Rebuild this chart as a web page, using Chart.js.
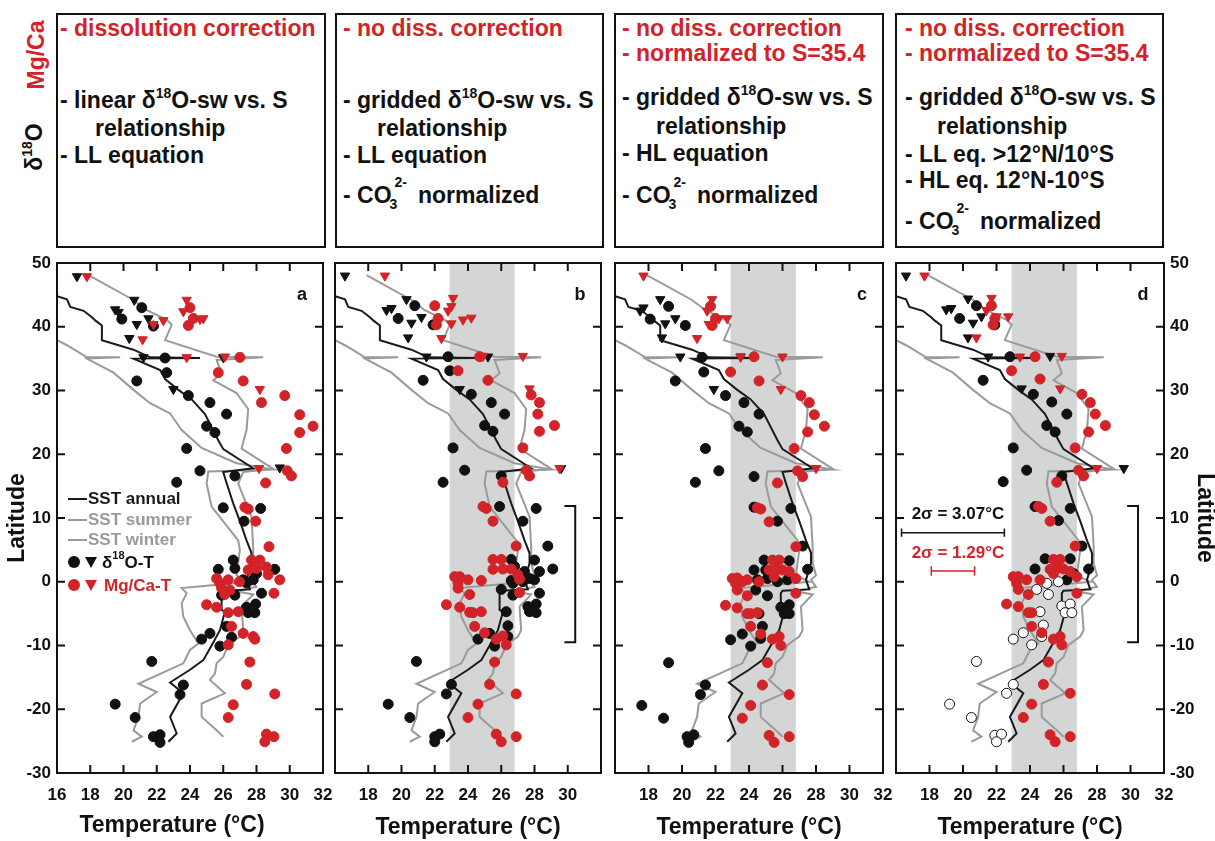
<!DOCTYPE html>
<html>
<head>
<meta charset="utf-8">
<script src="https://cdn.jsdelivr.net/npm/chart.js@4.4.1/dist/chart.umd.min.js"></script>
<style>
  body { margin: 0; background: #fff; }
  #page { position: relative; width: 1215px; height: 841px; overflow: hidden; background: #fff;
          font-family: "Liberation Sans", Arial, sans-serif; }
  canvas { position: absolute; left: 0; top: 0; }
  .box { position: absolute; top: 13px; height: 235px; border: 2px solid #111; box-sizing: border-box;
         font-weight: bold; font-size: 23px; color: #111; }
  .ln { position: absolute; white-space: nowrap; line-height: 26px; }
  .red { color: #d22328; }
  .sup { font-size: 14px; position: relative; top: -10px; }
  .co { display: inline-block; position: relative; width: 20px; height: 20px; }
  .co .s3 { position: absolute; left: -2px; top: 8px; font-size: 14px; }
  .co .s2 { position: absolute; left: 3px; top: -14px; font-size: 14px; }
  .side { position: absolute; font-weight: bold; font-size: 23px; white-space: nowrap;
          transform: translate(-50%, -50%) rotate(-90deg); }
</style>
</head>
<body>
<div id="page">
  <div class="side red" style="left:36px; top:55px;">Mg/Ca</div>
  <div class="side" style="left:34px; top:147px; color:#111;">δ<span class="sup">18</span>O</div>

  <div class="box" style="left:56px; width:270px;">
    <div class="ln red" style="left:2px; top:0px;">- dissolution correction</div>
    <div class="ln" style="left:2px; top:72px;">- linear δ<span class="sup">18</span>O-sw vs. S</div>
    <div class="ln" style="left:37px; top:100px;">relationship</div>
    <div class="ln" style="left:2px; top:127px;">- LL equation</div>
  </div>
  <div class="box" style="left:335px; width:269px;">
    <div class="ln red" style="left:6px; top:0px;">- no diss. correction</div>
    <div class="ln" style="left:6px; top:72px;">- gridded δ<span class="sup">18</span>O-sw vs. S</div>
    <div class="ln" style="left:40px; top:100px;">relationship</div>
    <div class="ln" style="left:6px; top:127px;">- LL equation</div>
    <div class="ln" style="left:6px; top:167px;">- CO<span class="co"><span class="s3">3</span><span class="s2">2-</span></span> normalized</div>
  </div>
  <div class="box" style="left:614px; width:270px;">
    <div class="ln red" style="left:6px; top:0px;">- no diss. correction</div>
    <div class="ln red" style="left:6px; top:25px;">- normalized to S=35.4</div>
    <div class="ln" style="left:6px; top:69px;">- gridded δ<span class="sup">18</span>O-sw vs. S</div>
    <div class="ln" style="left:40px; top:98px;">relationship</div>
    <div class="ln" style="left:6px; top:125px;">- HL equation</div>
    <div class="ln" style="left:6px; top:167px;">- CO<span class="co"><span class="s3">3</span><span class="s2">2-</span></span> normalized</div>
  </div>
  <div class="box" style="left:895px; width:269px;">
    <div class="ln red" style="left:8px; top:0px;">- no diss. correction</div>
    <div class="ln red" style="left:8px; top:25px;">- normalized to S=35.4</div>
    <div class="ln" style="left:8px; top:69px;">- gridded δ<span class="sup">18</span>O-sw vs. S</div>
    <div class="ln" style="left:40px; top:98px;">relationship</div>
    <div class="ln" style="left:8px; top:126px;">- LL eq. &gt;12°N/10°S</div>
    <div class="ln" style="left:8px; top:152px;">- HL eq. 12°N-10°S</div>
    <div class="ln" style="left:8px; top:193px;">- CO<span class="co"><span class="s3">3</span><span class="s2">2-</span></span> normalized</div>
  </div>

  <canvas id="pa" width="1215" height="841"></canvas>
  <canvas id="pb" width="1215" height="841"></canvas>
  <canvas id="pc" width="1215" height="841"></canvas>
  <canvas id="pd" width="1215" height="841"></canvas>
</div>

<script>
// axes
const xMin = 16, xMax = 32;
const yMin = -30, yMax = 50;
const xTicks = [16, 18, 20, 22, 24, 26, 28, 30, 32];
const yTicks = [-30, -20, -10, 0, 10, 20, 30, 40, 50];
const xLabelsA = [16, 18, 20, 22, 24, 26, 28, 30, 32];
const xLabelsB = [18, 20, 22, 24, 26, 28, 30];
const xLabelsCD = [18, 20, 22, 24, 26, 28, 30, 32];
const legendLabels = ['SST annual', 'SST summer', 'SST winter', 'O-T', 'Mg/Ca-T'];

// modern SST profiles [temperature, latitude]
const sstAnnual = [[16.0,44.8],[16.6,44.3],[16.8,43.1],[17.6,42.5],[18.1,41.5],[18.3,41.0],[18.7,40.2],[18.7,37.9],[20.6,36.4],[21.6,35.2],[24.6,35.1],[20.6,35.0],[22.2,33.2],[22.5,31.8],[23.3,30.1],[24.1,28.6],[24.9,26.3],[25.7,22.2],[26.0,20.8],[27.8,17.8],[26.0,17.2],[26.2,15.5],[26.6,12.3],[27.0,9.5],[27.4,6.5],[27.7,4.5],[27.7,2.9],[27.4,0.3],[27.6,-1.2],[26.0,-1.4],[25.9,-1.8],[25.9,-4.4],[26.1,-4.7],[25.8,-7.6],[25.3,-10.0],[24.8,-12.3],[24.0,-13.8],[22.8,-15.8],[23.6,-17.5],[22.8,-21.2],[23.2,-23.8],[22.7,-25.1]];
const sstSummer = [[17.9,48.1],[20.6,44.2],[21.4,42.6],[22.6,41.1],[22.9,40.3],[22.5,37.9],[25.6,35.3],[28.4,35.2],[25.6,34.8],[25.9,32.7],[25.4,31.6],[26.8,29.6],[27.5,27.1],[27.4,23.8],[27.1,20.9],[29.0,17.7],[27.2,17.2],[26.9,15.4],[27.7,10.2],[27.8,5.5],[27.8,2.9],[28.0,1.0],[27.7,0.3],[28.0,-0.8],[26.8,-1.5],[27.8,-2.0],[27.1,-3.9],[27.2,-7.6],[27.0,-8.6],[26.3,-9.9],[26.0,-11.8],[25.6,-12.8],[25.5,-14.4],[25.2,-15.4],[26.1,-17.5],[24.7,-19.1],[24.7,-21.2],[25.6,-23.3],[26.0,-24.3]];
const sstWinter = [[16.0,37.9],[16.6,37.1],[17.8,35.2],[19.8,35.2],[17.8,35.0],[19.4,32.8],[20.6,30.1],[21.6,28.0],[22.8,26.4],[23.5,23.8],[24.7,21.0],[26.8,18.6],[29.0,17.6],[25.1,17.3],[25.0,15.4],[25.3,11.8],[26.9,6.5],[27.0,5.0],[26.8,1.0],[27.6,0.0],[23.5,-1.0],[23.8,-1.8],[23.5,-3.4],[23.6,-5.5],[24.0,-7.6],[24.5,-9.7],[24.0,-10.7],[23.6,-12.8],[20.9,-16.0],[22.0,-17.3],[21.0,-19.1],[20.9,-21.2],[20.6,-23.3],[21.1,-24.3],[20.5,-25.1]];

// panel a
const aO18Tri = [[17.2,47.9],[20.65,44.2],[19.5,42.7],[19.7,42.3],[21.5,41.3],[20.8,40.4],[20.35,38.2],[21.2,35.2],[26.0,35.2],[23.0,30.2],[29.4,17.9]];
const aO18Circ = [[21.1,43.0],[19.9,41.2],[21.8,40.1],[22.5,35.1],[22.6,32.8],[20.8,31.5],[23.9,29.2],[25.2,28.1],[26.2,26.3],[25.0,24.4],[25.5,23.4],[23.8,20.9],[24.6,17.4],[23.2,15.6],[26.7,16.6],[26.0,11.6],[28.25,11.5],[27.25,9.5],[26.6,3.4],[26.7,2.1],[25.7,1.95],[27.6,1.85],[29.1,1.95],[28.0,1.3],[27.2,0.3],[27.8,0.3],[27.4,-0.2],[28.3,-1.8],[26.7,-2.1],[25.9,-2.1],[27.95,-3.5],[27.4,-4.0],[27.5,-4.85],[27.9,-4.85],[26.2,-7.0],[26.5,-8.7],[25.2,-8.1],[24.7,-9.0],[25.8,-10.1],[21.7,-12.5],[23.6,-16.2],[23.4,-17.7],[19.5,-19.2],[20.7,-21.3],[21.8,-24.3],[22.2,-24.0],[22.2,-25.2]];
const aMgTri = [[17.8,47.9],[23.8,44.2],[23.6,42.4],[24.6,41.2],[24.8,41.3],[21.8,40.4],[22.4,41.0],[21.15,38.0],[23.8,35.2],[26.1,35.3],[28.2,30.2],[28.15,17.8]];
const aMgCirc = [[24.0,43.0],[24.2,41.3],[23.9,40.2],[27.0,35.2],[25.7,32.8],[27.2,31.5],[28.3,28.1],[29.7,29.2],[30.6,26.2],[31.4,24.4],[30.6,23.4],[29.8,20.9],[29.85,17.4],[30.1,16.6],[28.55,15.5],[27.3,11.7],[27.5,11.4],[27.95,9.5],[28.75,5.5],[27.7,3.4],[28.2,3.4],[28.6,2.3],[28.7,1.1],[27.5,1.85],[28.0,2.1],[29.4,0.3],[29.05,-1.8],[26.97,0.0],[26.3,0.3],[25.6,0.5],[25.8,-0.25],[25.9,-1.0],[26.4,-1.3],[26.1,-2.0],[25.0,-3.6],[25.6,-4.0],[26.3,-4.85],[26.9,-4.7],[26.5,-7.0],[27.2,-8.1],[27.8,-8.6],[27.9,-9.0],[26.3,-9.9],[27.6,-12.6],[27.4,-16.1],[29.1,-17.6],[26.6,-19.3],[26.3,-21.3],[28.6,-23.9],[29.05,-24.3],[28.5,-25.1]];

// panel b
const bO18Tri = [[16.6,48.0],[20.3,44.3],[19.1,42.6],[19.4,42.9],[21.2,41.5],[20.6,40.6],[20.4,38.3],[21.5,35.3],[25.2,35.3],[23.5,30.2],[29.6,17.8]];
const bO18Circ = [[20.8,43.3],[19.8,41.3],[21.9,40.3],[22.8,35.3],[22.9,33.1],[21.3,31.6],[24.2,29.4],[25.4,28.1],[26.2,26.3],[25.0,24.5],[25.5,23.6],[23.1,21.0],[23.8,17.5],[22.5,15.6],[26.0,16.6],[25.9,11.8],[28.1,11.5],[27.3,9.5],[28.8,5.6],[26.6,3.5],[28.0,3.4],[26.8,2.4],[27.4,1.6],[28.3,1.6],[29.1,2.0],[27.7,0.5],[28.0,0.3],[26.6,0.2],[27.1,0.8],[26.7,-0.25],[27.3,0.0],[26.0,-1.2],[28.3,-1.8],[26.7,-2.1],[27.6,-3.9],[28.1,-3.5],[27.7,-4.7],[28.1,-4.85],[26.3,-4.7],[26.4,-6.9],[26.4,-8.6],[25.3,-8.1],[24.6,-9.0],[25.6,-10.1],[20.9,-12.5],[23.0,-16.1],[22.7,-17.6],[19.2,-19.2],[20.5,-21.3],[22.0,-24.3],[22.3,-23.9],[22.0,-25.1]];
const bMgTri = [[19.0,48.0],[23.1,44.5],[23.0,43.2],[22.8,42.5],[23.0,40.5],[23.7,41.1],[24.2,41.4],[22.4,38.2],[24.9,35.4],[27.3,35.4],[27.7,30.3],[29.5,17.8]];
const bMgCirc = [[22.0,43.3],[22.2,41.3],[22.1,40.3],[24.7,35.3],[23.4,33.1],[25.2,31.6],[27.8,29.3],[28.3,28.1],[28.2,26.3],[29.2,24.5],[28.3,23.6],[27.3,21.0],[27.5,17.5],[27.7,16.6],[26.1,15.6],[24.9,11.8],[25.1,11.5],[25.5,9.5],[26.9,5.6],[25.5,3.5],[26.0,3.5],[25.5,1.95],[26.1,2.0],[26.6,2.0],[27.0,1.1],[27.1,0.4],[23.2,0.8],[23.5,0.8],[23.4,-0.15],[24.0,0.3],[24.8,0.2],[23.4,-1.0],[24.1,-2.0],[27.1,-1.7],[22.7,-3.6],[23.5,-4.0],[24.1,-4.8],[24.3,-4.85],[24.8,-4.7],[24.4,-7.0],[25.0,-8.0],[25.7,-9.0],[26.1,-8.5],[26.3,-9.9],[25.6,-12.6],[25.3,-16.1],[26.9,-17.6],[24.6,-19.2],[24.0,-21.3],[25.7,-23.9],[26.0,-25.1],[26.9,-24.3]];

// panel c
const cO18Tri = [[18.7,44.3],[17.7,43.0],[17.5,42.5],[19.6,41.3],[19.0,40.5],[18.8,38.3],[19.9,35.3],[23.5,35.3],[21.9,30.2]];
const cO18Circ = [[19.2,43.2],[18.1,41.2],[20.2,40.2],[21.2,35.2],[21.3,32.9],[19.6,31.5],[22.6,29.2],[23.7,28.1],[24.6,26.3],[23.4,24.4],[23.9,23.5],[21.4,20.9],[22.2,17.4],[20.8,15.6],[24.3,16.5],[24.3,11.7],[26.5,11.5],[25.7,9.5],[27.2,5.6],[24.9,3.4],[26.4,3.3],[24.3,1.85],[27.5,1.95],[25.0,1.85],[25.1,0.5],[25.7,0.0],[26.3,0.3],[24.5,0.3],[24.4,-1.3],[25.1,-2.2],[25.9,-4.0],[26.4,-3.6],[26.1,-5.0],[26.4,-5.0],[24.6,-5.0],[24.8,-7.0],[23.6,-8.2],[22.9,-9.1],[24.7,-8.9],[24.1,-10.1],[19.2,-12.7],[21.4,-16.2],[21.1,-17.7],[17.6,-19.4],[18.9,-21.4],[20.3,-24.3],[20.7,-24.0],[20.4,-25.2]];
const cMgTri = [[17.7,48.0],[21.8,44.3],[21.5,42.5],[22.2,41.3],[22.7,41.3],[21.6,40.4],[20.9,38.2],[23.5,35.3],[26.0,35.3],[25.9,30.2],[28.0,17.8]];
const cMgCirc = [[21.7,43.2],[22.0,41.3],[21.8,40.2],[24.3,35.3],[22.9,32.9],[24.6,31.5],[27.1,29.2],[27.6,28.1],[27.9,26.2],[28.5,24.4],[27.5,23.5],[26.7,20.9],[26.9,17.4],[27.2,16.5],[25.7,15.5],[24.5,11.6],[24.7,11.4],[25.2,9.4],[26.8,5.5],[25.4,3.4],[25.8,3.4],[25.2,1.85],[25.6,1.95],[26.0,1.85],[26.4,1.6],[26.8,0.5],[25.5,0.8],[23.0,0.5],[23.3,0.6],[23.2,-0.25],[23.6,0.0],[23.9,0.3],[24.6,0.0],[23.3,-1.3],[23.9,-2.2],[26.8,-1.8],[22.6,-3.7],[23.3,-4.1],[23.9,-5.0],[24.1,-5.0],[24.5,-4.85],[24.1,-7.0],[24.7,-8.2],[25.4,-9.0],[25.8,-8.6],[25.9,-10.0],[25.1,-12.7],[24.8,-16.2],[26.4,-17.7],[24.1,-19.4],[23.6,-21.4],[25.2,-24.1],[25.5,-25.2],[26.4,-24.3]];

// panel d
const dO18Tri = [[16.6,48.0],[20.3,44.4],[19.0,42.7],[19.3,42.9],[21.1,41.6],[20.6,40.6],[20.3,38.3],[21.5,35.3],[25.2,35.4],[23.5,30.3],[29.6,17.8]];
const dO18Circ = [[20.8,43.3],[19.8,41.3],[21.9,40.3],[22.8,35.3],[21.2,31.6],[24.2,29.4],[25.3,28.2],[26.2,26.3],[25.0,24.5],[25.5,23.5],[23.0,21.0],[23.8,17.5],[22.4,15.7],[25.9,16.6],[24.3,11.8],[26.4,11.5],[25.7,9.6],[27.1,5.6],[24.9,3.6],[26.4,3.6],[24.3,2.0],[27.5,2.0],[26.2,0.3],[26.6,1.3]];
const dO18Open = [[24.4,-1.2],[25.0,-0.25],[25.7,0.0],[25.1,-2.0],[25.9,-3.8],[26.4,-3.5],[26.1,-4.85],[26.5,-4.85],[24.6,-4.7],[24.8,-6.8],[24.7,-8.6],[23.6,-8.0],[23.0,-9.0],[24.1,-9.9],[20.8,-12.5],[23.0,-16.1],[22.6,-17.5],[19.2,-19.2],[20.5,-21.3],[21.9,-24.1],[22.3,-23.9],[22.0,-25.1]];
const dMgTri = [[17.7,48.0],[21.7,44.5],[21.4,42.6],[22.0,41.6],[22.7,41.6],[20.8,38.3],[23.4,35.3],[25.9,35.4],[25.8,30.3],[28.0,17.8]];
const dMgCirc = [[21.7,43.3],[21.9,41.3],[21.8,40.3],[24.3,35.3],[22.9,33.1],[24.6,31.8],[27.1,29.4],[27.6,28.1],[27.9,26.3],[28.5,24.5],[27.5,23.5],[26.7,21.0],[26.9,17.5],[27.2,16.6],[25.6,15.6],[24.5,11.8],[24.7,11.5],[25.2,9.5],[26.7,5.6],[25.4,3.5],[25.8,3.5],[25.2,1.95],[25.6,2.1],[26.0,2.0],[26.4,1.6],[26.8,0.8],[25.4,1.3],[23.0,0.8],[23.3,0.8],[23.2,-0.25],[23.8,0.3],[24.6,0.3],[23.3,-1.2],[23.9,-2.0],[26.8,-1.8],[22.6,-3.5],[23.3,-3.9],[23.9,-4.85],[24.1,-4.85],[24.1,-7.0],[24.7,-8.0],[25.4,-9.0],[25.8,-8.6],[25.9,-9.9],[25.1,-12.6],[24.8,-16.1],[26.4,-17.5],[24.1,-19.2],[23.6,-21.3],[25.2,-24.0],[25.5,-25.1],[26.4,-24.3]];

// shaded range, HL bracket, 2-sigma bars
const bandRange = [22.9, 26.8];
const bracket = [[29.8,11.9],[30.45,11.9],[30.45,-9.5],[29.8,-9.5]];
const sigmaO18 = 3.07, sigmaMg = 1.29;
const sigmaCenter = 19.4, sigmaO18Lat = 7.7, sigmaMgLat = 1.7;

const RED = '#d22328', BLACK = '#111', GREY = '#9a9a9a';
const FONT = "'Liberation Sans', Arial, sans-serif";
Chart.defaults.font.family = FONT;
Chart.defaults.color = BLACK;

const xy = arr => arr.map(([x, y]) => ({ x, y }));
const lineSet = (arr, color, width, order) => ({
  data: xy(arr), showLine: true, borderColor: color, borderWidth: width,
  pointRadius: 0, fill: false, tension: 0, order
});
const dotSet = (arr, fill, stroke, style, r, order) => ({
  data: xy(arr), showLine: false, pointStyle: style, pointRadius: r,
  pointBackgroundColor: fill, pointBorderColor: stroke, pointBorderWidth: 1,
  pointRotation: style === 'triangle' ? 180 : 0, order
});
const errBar = (sigma, lat, half) => {
  const l = sigmaCenter - sigma, r = sigmaCenter + sigma;
  return [[l, lat + half], [l, lat - half], [l, lat], [r, lat], [r, lat + half], [r, lat - half]];
};

function drawDelta(ctx, x, y, tail, color) {
  ctx.fillStyle = color;
  ctx.textAlign = 'left';
  ctx.font = 'bold 17px ' + FONT;
  ctx.fillText('δ', x, y);
  let w = ctx.measureText('δ').width;
  ctx.font = 'bold 11px ' + FONT;
  ctx.fillText('18', x + w, y - 7);
  w += ctx.measureText('18').width;
  ctx.font = 'bold 17px ' + FONT;
  ctx.fillText(tail, x + w, y);
}

const framePlugin = {
  id: 'frame',
  beforeDatasetsDraw(chart, args, o) {
    if (!o.band) return;
    const { ctx, chartArea: ca, scales: { x } } = chart;
    const l = x.getPixelForValue(o.band[0]), r = x.getPixelForValue(o.band[1]);
    ctx.save();
    ctx.fillStyle = '#d4d6d6';
    ctx.fillRect(l, ca.top, r - l, ca.bottom - ca.top);
    ctx.restore();
  },
  afterDraw(chart, args, o) {
    const { ctx, chartArea: ca, scales: { x, y } } = chart;
    ctx.save();
    ctx.strokeStyle = BLACK;
    ctx.lineWidth = 2;
    ctx.strokeRect(ca.left, ca.top, ca.right - ca.left, ca.bottom - ca.top);
    ctx.beginPath();
    xTicks.forEach(v => {
      if (v <= xMin || v >= xMax) return;
      const p = x.getPixelForValue(v);
      ctx.moveTo(p, ca.bottom); ctx.lineTo(p, ca.bottom - 8);
      ctx.moveTo(p, ca.top); ctx.lineTo(p, ca.top + 8);
    });
    yTicks.forEach(v => {
      if (v <= yMin || v >= yMax) return;
      const p = y.getPixelForValue(v);
      ctx.moveTo(ca.left, p); ctx.lineTo(ca.left + 8, p);
      ctx.moveTo(ca.right, p); ctx.lineTo(ca.right - 8, p);
    });
    ctx.stroke();

    ctx.textBaseline = 'middle';
    ctx.fillStyle = BLACK;
    ctx.font = 'bold 18px ' + FONT;
    ctx.textAlign = 'center';
    ctx.fillText(o.letter, ca.right - 21, ca.top + 32);

    if (o.xTitle) {
      ctx.font = 'bold 23px ' + FONT;
      ctx.fillText('Temperature (°C)', ca.left + 115, 826);
    }

    if (o.legend) {
      const x0 = ca.left, y0 = ca.top;
      const rows = [[legendLabels[0], '#1a1a1a', '#1a1a1a', 236], [legendLabels[1], GREY, GREY, 257], [legendLabels[2], GREY, GREY, 277]];
      ctx.font = 'bold 17px ' + FONT;
      ctx.textAlign = 'left';
      rows.forEach(([t, lc, tc, dy]) => {
        ctx.strokeStyle = lc; ctx.lineWidth = 2;
        ctx.beginPath(); ctx.moveTo(x0 + 11, y0 + dy); ctx.lineTo(x0 + 30, y0 + dy); ctx.stroke();
        ctx.fillStyle = tc;
        ctx.fillText(t, x0 + 31, y0 + dy);
      });
      const mk = (cx, cy, color) => {
        ctx.fillStyle = color;
        ctx.beginPath(); ctx.arc(x0 + cx, y0 + cy, 6, 0, Math.PI * 2); ctx.fill();
        ctx.beginPath();
        ctx.moveTo(x0 + cx + 11, y0 + cy - 5); ctx.lineTo(x0 + cx + 23, y0 + cy - 5); ctx.lineTo(x0 + cx + 17, y0 + cy + 6);
        ctx.closePath(); ctx.fill();
      };
      mk(17, 299, BLACK);
      drawDelta(ctx, x0 + 45, y0 + 300, legendLabels[3], BLACK);
      mk(17, 322, RED);
      ctx.fillStyle = RED; ctx.font = 'bold 17px ' + FONT;
      ctx.fillText(legendLabels[4], x0 + 47, y0 + 323);
    }

    if (o.sigma) {
      ctx.font = 'bold 17px ' + FONT;
      ctx.textAlign = 'center';
      const cx = x.getPixelForValue(sigmaCenter) + 5;
      ctx.fillStyle = BLACK;
      ctx.fillText('2σ = ' + sigmaO18.toFixed(2) + '°C', cx, y.getPixelForValue(sigmaO18Lat) - 18);
      ctx.fillStyle = RED;
      ctx.fillText('2σ = ' + sigmaMg.toFixed(2) + '°C', cx, y.getPixelForValue(sigmaMgLat) - 18);
    }
    ctx.restore();
  }
};

function makePanel(id, cfg) {
  const datasets = [
    lineSet(sstWinter, GREY, 2, 10),
    lineSet(sstSummer, GREY, 2, 10),
    lineSet(sstAnnual, '#1a1a1a', 2, 9),
    dotSet(cfg.oTri, BLACK, BLACK, 'triangle', 5.4, 7),
    dotSet(cfg.oCirc, BLACK, BLACK, 'circle', 5, 6),
    dotSet(cfg.mgTri, RED, RED, 'triangle', 5.4, 3),
    dotSet(cfg.mgCirc, RED, RED, 'circle', 5, 2)
  ];
  if (cfg.open) datasets.push(dotSet(cfg.open, '#fff', BLACK, 'circle', 5, 4));
  if (cfg.bracket) datasets.push(lineSet(bracket, BLACK, 2, 1));
  if (cfg.sigma) {
    datasets.push(lineSet(errBar(sigmaO18, sigmaO18Lat, 0.65), BLACK, 1.5, 1));
    datasets.push(lineSet(errBar(sigmaMg, sigmaMgLat, 0.75), RED, 1.5, 1));
  }
  const tickFont = { size: 17, weight: 'bold' };
  const titleFont = { size: 23, weight: 'bold' };
  new Chart(document.getElementById(id), {
    type: 'scatter',
    data: { datasets },
    plugins: [framePlugin],
    options: {
      responsive: false,
      animation: false,
      events: [],
      layout: { padding: cfg.pad },
      plugins: {
        legend: { display: false },
        tooltip: { enabled: false },
        frame: { band: cfg.band, letter: cfg.letter, legend: cfg.legend, xTitle: cfg.xTitle, sigma: cfg.sigma }
      },
      scales: {
        x: {
          type: 'linear', min: xMin, max: xMax,
          grid: { display: false, drawTicks: false }, border: { display: false },
          ticks: { stepSize: 2, autoSkip: false, maxRotation: 0, padding: 12, font: tickFont, color: BLACK,
                   callback: v => cfg.xLabels.includes(v) ? String(v) : '' },
          title: { display: !cfg.xTitle, text: 'Temperature (°C)', font: titleFont, color: BLACK, padding: { top: 0, bottom: 0 } },
          afterFit: s => { s.height = 68; }
        },
        y: {
          type: 'linear', min: yMin, max: yMax, display: cfg.yPos !== null,
          position: cfg.yPos || 'left',
          grid: { display: false, drawTicks: false }, border: { display: false },
          ticks: { stepSize: 10, padding: 6, font: tickFont, color: BLACK },
          title: { display: true, text: 'Latitude', font: titleFont, color: BLACK,
                   padding: { top: cfg.yPos === 'right' ? -3 : 4, bottom: 0 } },
          afterFit: s => { s.width = cfg.yWidth || s.width; }
        }
      }
    }
  });
}

makePanel('pa', { oTri: aO18Tri, oCirc: aO18Circ, mgTri: aMgTri, mgCirc: aMgCirc, letter: 'a',
  legend: true, xTitle: true, xLabels: xLabelsA, yPos: 'left', yWidth: 57,
  pad: { left: 0, right: 892, top: 263, bottom: 0 } });
makePanel('pb', { oTri: bO18Tri, oCirc: bO18Circ, mgTri: bMgTri, mgCirc: bMgCirc, letter: 'b',
  band: bandRange, bracket: true, xLabels: xLabelsB, yPos: null,
  pad: { left: 335, right: 614, top: 263, bottom: 0 } });
makePanel('pc', { oTri: cO18Tri, oCirc: cO18Circ, mgTri: cMgTri, mgCirc: cMgCirc, letter: 'c',
  band: bandRange, xLabels: xLabelsCD, yPos: null,
  pad: { left: 615, right: 332, top: 263, bottom: 0 } });
makePanel('pd', { oTri: dO18Tri, oCirc: dO18Circ, mgTri: dMgTri, mgCirc: dMgCirc, open: dO18Open, letter: 'd',
  band: bandRange, bracket: true, sigma: true, xLabels: xLabelsCD, yPos: 'right', yWidth: 51,
  pad: { left: 896, right: 0, top: 263, bottom: 0 } });
</script>
</body>
</html>
